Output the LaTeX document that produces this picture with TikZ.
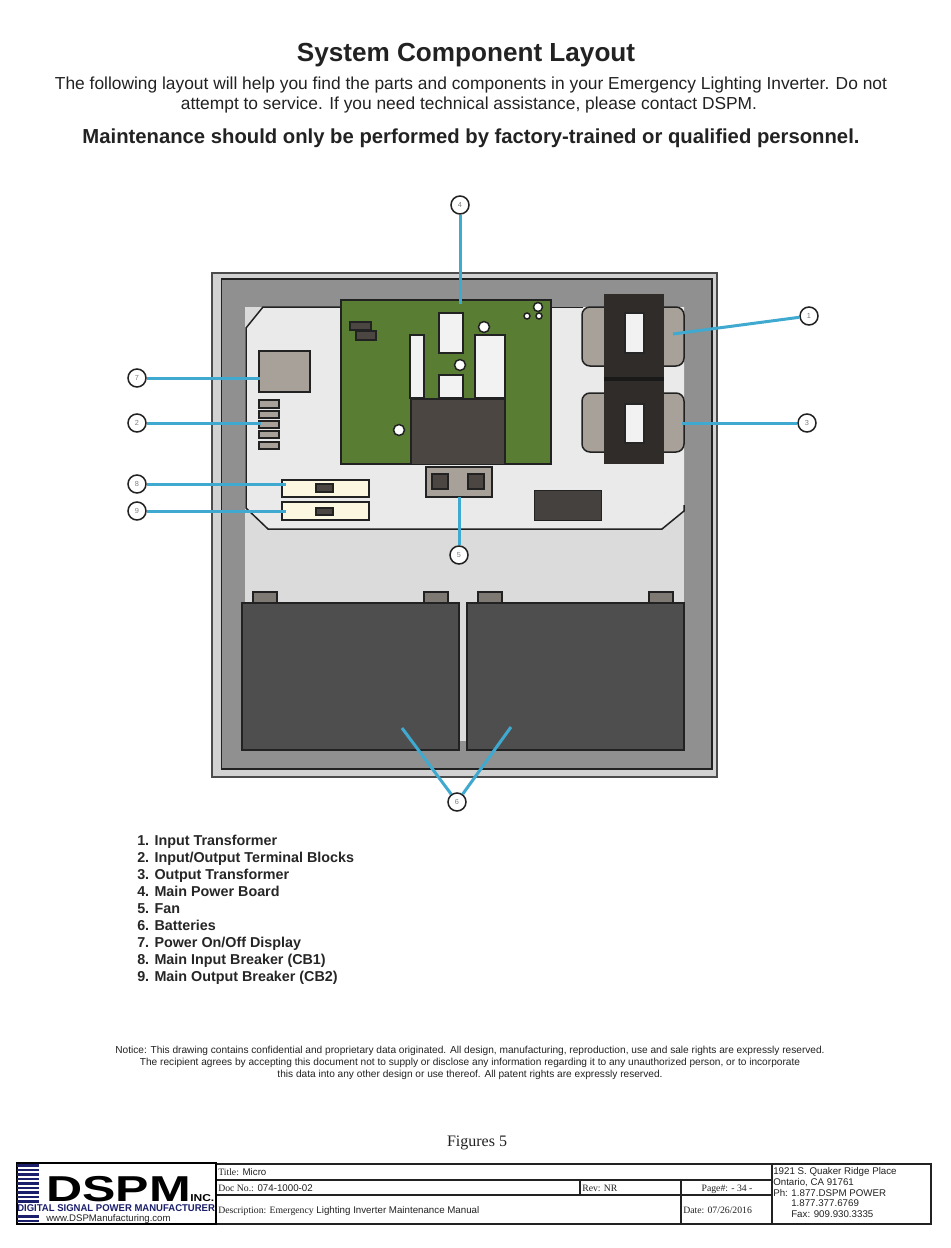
\documentclass[tikz,border=0pt]{standalone}
\usepackage{fontspec}
\setmainfont{Liberation Sans}
\newfontfamily\serifx{Liberation Serif}
\newcommand\fs[1]{\fontsize{#1}{#1}\selectfont}
\definecolor{framegray}{HTML}{909090}
\definecolor{outergray}{HTML}{D2D2D2}
\definecolor{innergray}{HTML}{DCDBDB}
\definecolor{boardlight}{HTML}{EBEAEB}
\definecolor{pcb}{HTML}{5A7D34}
\definecolor{tan}{HTML}{A8A199}
\definecolor{coal}{HTML}{2F2C2A}
\definecolor{chip}{HTML}{4C4643}
\definecolor{batt}{HTML}{4E4E4E}
\definecolor{cream}{HTML}{FBF7E0}
\definecolor{callblue}{HTML}{3FA9D0}
\definecolor{navy}{HTML}{1B1F6B}
\definecolor{ink}{HTML}{222222}
\tikzset{
 px/.style={line width=#1*0.75pt},
 part/.style={draw=ink,px=2},
 hole/.style={circle,draw=ink,fill=white,px=1.5,minimum size=11*0.75pt,inner sep=0pt},
 callout/.style={circle,draw=ink,fill=white,px=1.5,minimum size=18*0.75pt,inner sep=0pt,text=gray,font=\fs{5.5}},
 leader/.style={draw=callblue,px=3},
 tline/.style={draw=ink,px=1.3},
 lbl/.style={anchor=base west,inner sep=0pt,text=ink},
 ctr/.style={anchor=base,inner sep=0pt,text=ink},
 listitem/.style={lbl,font=\fs{10.75}\bfseries,text=black!85},
}
\begin{document}
\begin{tikzpicture}[x=0.75pt,y=-0.75pt]
\useasboundingbox (0,0) rectangle (950,1248);
\fill[white] (0,0) rectangle (950,1248);
% header
\node[ctr,font=\fs{19.6}\bfseries] (title) at (466,62) {System Component Layout};
\node[ctr,font=\fs{13.03}] (p1) at (471,90) {The following layout will help you find the parts and components in your Emergency Lighting Inverter. Do not};
\node[ctr,font=\fs{13.03}] (p2) at (469,110) {attempt to service. If you need technical assistance, please contact DSPM.};
\node[ctr,font=\fs{15.2}\bfseries] (warn) at (471,144) {Maintenance should only be performed by factory-trained or qualified personnel.};
% cabinet
\draw[fill=outergray,draw=black!70,px=2] (212,273) rectangle (717,777);
\draw[fill=framegray,draw=ink,px=1.5] (221.5,279) rectangle (712,769);
\fill[innergray] (245,307) rectangle (684,603);
\fill[innergray] (459,603) rectangle (467,741);
% circuit plate
\fill[boardlight] (263,307) -- (684,307) -- (684,511) -- (662,529) -- (268,529) -- (246,508) -- (246,328) -- cycle;
\draw[draw=ink,px=1.5] (341,307) -- (263,307) -- (246,328) -- (246,508) -- (268,529) -- (662,529) -- (684,511) -- (684,505);
\draw[draw=ink,px=1] (551,307) -- (583,307);
% power display and terminals
\draw[part,fill=tan] (259,351) rectangle (310,392);
\foreach \a/\b in {400/408,411/418,421/428,431/438,442/449}
  \draw[draw=ink,px=1.5,fill=tan] (259,\a) rectangle (279,\b);
% breakers
\draw[part,fill=cream] (282,480) rectangle (369,497);
\draw[part,fill=cream] (282,502) rectangle (369,520);
\draw[draw=ink,px=1.5,fill=chip] (316,484) rectangle (333,492);
\draw[draw=ink,px=1.5,fill=chip] (316,508) rectangle (333,515);
% pcb
\draw[part,fill=pcb] (341,300) rectangle (551,464);
\draw[draw=ink,px=1.5,fill=chip] (350,322) rectangle (371,330);
\draw[draw=ink,px=1.5,fill=chip] (356,331) rectangle (376,340);
\draw[part,fill=white!95!black] (439,313) rectangle (463,353);
\draw[part,fill=white!95!black] (410,335) rectangle (424,398);
\draw[part,fill=white!95!black] (439,375) rectangle (463,398);
\draw[part,fill=white!95!black] (475,335) rectangle (505,398);
\fill[chip] (411,399) rectangle (505,464);
\draw[draw=ink,px=1.5] (411,464) -- (411,399) -- (505,399) -- (505,464);
\node[hole] (h1) at (484,327) {};
\node[hole] (h2) at (460,365) {};
\node[hole] (h3) at (399,430) {};
\node[hole,minimum size=9*0.75pt] (h4) at (538,307) {};
\node[hole,minimum size=6*0.75pt] (h5) at (527,316) {};
\node[hole,minimum size=6*0.75pt] (h6) at (539,316) {};
% fan
\draw[part,fill=tan] (426,467) rectangle (492,497);
\draw[part,fill=chip] (432,474) rectangle (448,489);
\draw[part,fill=chip] (468,474) rectangle (484,489);
% dark block
\draw[draw=ink,px=1,fill=coal!90!white] (534,490) rectangle (601,520);
% transformers
\foreach \a/\b in {307/366,393/452}{
  \draw[draw=ink,px=1.5,fill=tan,rounded corners=8*0.75pt] (582,\a) rectangle (684,\b);
}
\fill[coal] (604,294) rectangle (664,464);
\fill[black!90] (604,377) rectangle (664,381);
\draw[draw=black!85,px=1.2,fill=white!95!black] (625,313) rectangle (644,353);
\draw[draw=black!85,px=1.2,fill=white!95!black] (625,404) rectangle (644,443);
% batteries
\foreach \x in {253,424,478,649}
  \draw[part,fill=tan!75!black] (\x,592) rectangle (\x+24,603);
\draw[draw=ink,px=1.5,fill=batt] (242,603) rectangle (459,750);
\draw[draw=ink,px=1.5,fill=batt] (467,603) rectangle (684,750);
% callouts
\coordinate (e1) at (673,334);
\coordinate (e2) at (261,423);
\coordinate (e3) at (682,423);
\coordinate (e4) at (460,304);
\coordinate (e5) at (459,497);
\coordinate (e6a) at (402,728);
\coordinate (e6b) at (511,727);
\coordinate (e7) at (260,378);
\coordinate (e8) at (286,484);
\coordinate (e9) at (286,511);
\node[callout] (c1) at (809,316) {1};
\node[callout] (c2) at (137,423) {2};
\node[callout] (c3) at (807,423) {3};
\node[callout] (c4) at (460,205) {4};
\node[callout] (c5) at (459,555) {5};
\node[callout] (c6) at (457,802) {6};
\node[callout] (c7) at (137,378) {7};
\node[callout] (c8) at (137,484) {8};
\node[callout] (c9) at (137,511) {9};
\draw[leader] (c1) -- (e1);
\draw[leader] (c2) -- (e2);
\draw[leader] (c3) -- (e3);
\draw[leader] (c4) -- (e4);
\draw[leader] (c5) -- (e5);
\draw[leader] (c6) -- (e6a);
\draw[leader] (c6) -- (e6b);
\draw[leader] (c7) -- (e7);
\draw[leader] (c8) -- (e8);
\draw[leader] (c9) -- (e9);
% list
\node[listitem] (l1) at (137,845) {1. Input Transformer};
\node[listitem] (l2) at (137,862) {2. Input/Output Terminal Blocks};
\node[listitem] (l3) at (137,879) {3. Output Transformer};
\node[listitem] (l4) at (137,896) {4. Main Power Board};
\node[listitem] (l5) at (137,913) {5. Fan};
\node[listitem] (l6) at (137,930) {6. Batteries};
\node[listitem] (l7) at (137,947) {7. Power On/Off Display};
\node[listitem] (l8) at (137,964) {8. Main Input Breaker (CB1)};
\node[listitem] (l9) at (137,981) {9. Main Output Breaker (CB2)};
% notice
\node[ctr,font=\fs{7.6}] (n1) at (470,1053) {Notice: This drawing contains confidential and proprietary data originated. All design, manufacturing, reproduction, use and sale rights are expressly reserved.};
\node[ctr,font=\fs{7.6}] (n2) at (470,1065) {The recipient agrees by accepting this document not to supply or disclose any information regarding it to any unauthorized person, or to incorporate};
\node[ctr,font=\fs{7.6}] (n3) at (470,1077) {this data into any other design or use thereof. All patent rights are expressly reserved.};
\node[ctr,font=\fs{12}\serifx] (fig) at (477,1146) {Figures 5};
% title block
\draw[tline] (216,1164) rectangle (931,1224);
\draw[tline] (216,1180) -- (772,1180);
\draw[tline] (216,1195) -- (772,1195);
\draw[tline] (580,1180) -- (580,1195);
\draw[tline] (681,1180) -- (681,1224);
\draw[tline] (772,1164) -- (772,1224);
\node[lbl,font=\fs{7.3}] (t1) at (218,1175) {{\serifx Title:} Micro};
\node[lbl,font=\fs{7.3}] (t2) at (218,1191) {{\serifx Doc No.:} 074-1000-02};
\node[lbl,font=\fs{7.3}] (t3) at (218,1213) {{\serifx Description: Emergency} Lighting Inverter Maintenance Manual};
\node[lbl,font=\fs{7.3}\serifx] (t4) at (582,1191) {Rev: NR};
\node[ctr,font=\fs{7.3}\serifx] (t5) at (727,1191) {Page\#: - 34 -};
\node[lbl,font=\fs{7.3}\serifx] (t6) at (683,1213) {Date: 07/26/2016};
\node[lbl,font=\fs{7.3}] (a1) at (773,1174) {1921 S. Quaker Ridge Place};
\node[lbl,font=\fs{7.3}] (a2) at (773,1185) {Ontario, CA 91761};
\node[lbl,font=\fs{7.3}] (a3) at (773,1196) {Ph: 1.877.DSPM POWER};
\node[lbl,font=\fs{7.3}] (a4) at (791,1206) {1.877.377.6769};
\node[lbl,font=\fs{7.3}] (a5) at (791,1217) {Fax: 909.930.3335};
% logo
\draw[draw=black,px=1.5] (17,1163) rectangle (216,1224);
\foreach \y in {1164,1168.5,...,1200}
  \fill[navy] (17,\y) rectangle (39,\y+2.6);
\foreach \y in {1215,1219.5}
  \fill[navy] (17,\y) rectangle (39,\y+2.6);
\node[anchor=base west,inner sep=0pt,text=black] (dspm) at (46,1201) {\scalebox{1.39}[1]{\fs{27}\bfseries DSPM}};
\node[anchor=base west,inner sep=0pt,text=black] (inc) at (190,1201) {\scalebox{1.2}[1]{\fs{7.5}\bfseries INC.}};
\node[anchor=base west,inner sep=0pt,text=navy] (dig) at (17,1211.5) {\scalebox{0.965}[1]{\fs{7.4}\bfseries DIGITAL SIGNAL POWER MANUFACTURER}};
\node[anchor=base west,inner sep=0pt,text=ink] (web) at (46,1221) {\fs{7.2}www.DSPManufacturing.com};
\end{tikzpicture}
\end{document}
